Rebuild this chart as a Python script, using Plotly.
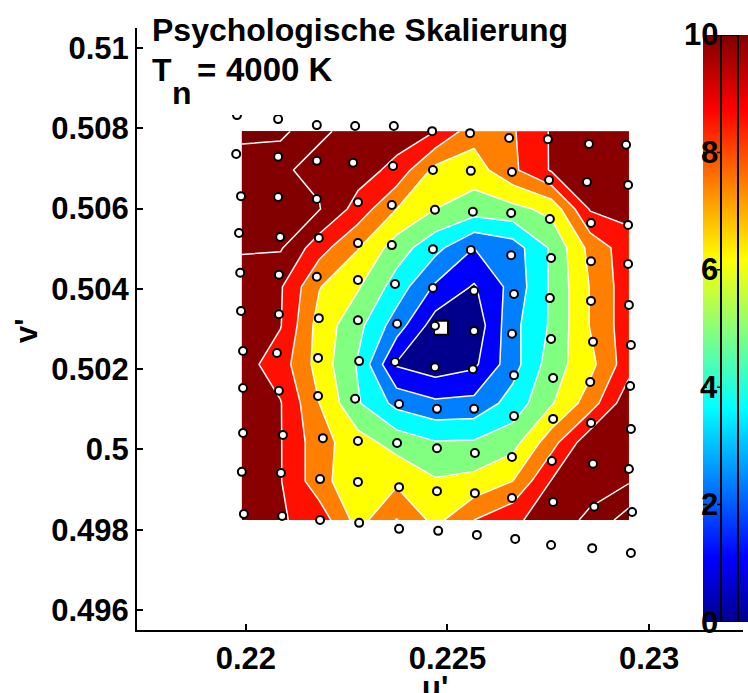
import plotly.graph_objects as go

W, H = 748, 693

# ---------------- data ----------------
u_grid = [0.2199, 0.22086, 0.22182, 0.22278, 0.22374, 0.2247, 0.22566, 0.22662, 0.22758, 0.22854, 0.2295]
# grid rows listed from top (high v') to bottom
v_grid = [0.50793, 0.50696, 0.50599, 0.50502, 0.50405, 0.50309, 0.50212, 0.50115, 0.50018, 0.49921, 0.49824]
z_rows = [
    [10.3, 10.3, 9.1, 8.8, 8.5, 8.0, 6.4, 6.9, 8.1, 8.5, 8.4],
    [9.4, 9.1, 8.8, 8.45, 7.7, 5.7, 5.5, 6.8, 8.1, 8.5, 8.3],
    [9.3, 9.15, 9.05, 7.6, 6.0, 5.0, 4.5, 4.7, 5.3, 8.1, 8.3],
    [9.1, 9.1, 7.4, 6.05, 4.5, 3.3, 2.0, 2.5, 4.15, 6.3, 7.6],
    [8.5, 8.1, 6.05, 5.1, 3.55, 1.85, 0.9, 2.35, 4.15, 6.05, 7.6],
    [8.3, 8.05, 5.6, 4.3, 2.5, 0.5, 0.3, 2.7, 4.15, 6.05, 7.6],
    [8.4, 7.5, 5.6, 3.9, 0.9, 0.4, 0.8, 2.6, 4.5, 5.7, 7.6],
    [8.6, 8.05, 6.0, 4.1, 2.7, 2.2, 2.3, 3.4, 4.9, 6.5, 8.7],
    [8.7, 8.05, 6.4, 5.4, 4.6, 4.05, 4.1, 4.6, 6.6, 8.7, 8.7],
    [8.6, 8.05, 6.4, 5.2, 5.8, 5.1, 5.3, 6.0, 8.05, 8.6, 8.9],
    [8.7, 8.1, 7.6, 5.6, 7.05, 5.7, 7.0, 7.8, 8.5, 9.2, 10.5],
]

# measured sample points (u', v'), row by row from the top
pts_u = [
    [0.21978, 0.22080, 0.22176, 0.22271, 0.22367, 0.22462, 0.22556, 0.22653, 0.22749, 0.22851, 0.22943],
    [0.21976, 0.22080, 0.22176, 0.22266, 0.22365, 0.22464, 0.22558, 0.22660, 0.22752, 0.22846, 0.22948],
    [0.21988, 0.22080, 0.22176, 0.22278, 0.22362, 0.22469, 0.22563, 0.22658, 0.22754, 0.22856, 0.22948],
    [0.21983, 0.22085, 0.22181, 0.22278, 0.22362, 0.22464, 0.22558, 0.22658, 0.22757, 0.22856, 0.22948],
    [0.21986, 0.22082, 0.22176, 0.22278, 0.22370, 0.22464, 0.22566, 0.22665, 0.22754, 0.22856, 0.22950],
    [0.21988, 0.22082, 0.22181, 0.22278, 0.22375, 0.22469, 0.22566, 0.22660, 0.22757, 0.22861, 0.22955],
    [0.21993, 0.22077, 0.22179, 0.22281, 0.22370, 0.22469, 0.22563, 0.22665, 0.22762, 0.22854, 0.22953],
    [0.21993, 0.22082, 0.22179, 0.22271, 0.22380, 0.22474, 0.22566, 0.22665, 0.22762, 0.22856, 0.22955],
    [0.21993, 0.22092, 0.22191, 0.22278, 0.22375, 0.22474, 0.22568, 0.22660, 0.22759, 0.22861, 0.22950],
    [0.21990, 0.22087, 0.22184, 0.22278, 0.22380, 0.22474, 0.22568, 0.22660, 0.22762, 0.22864, 0.22958],
    [0.21995, 0.22090, 0.22184, 0.22281, 0.22380, 0.22477, 0.22573, 0.22668, 0.22757, 0.22859, 0.22955],
]
pts_v = [
    [0.50833, 0.50823, 0.50808, 0.50806, 0.50806, 0.50793, 0.50788, 0.50776, 0.50773, 0.50761, 0.50759],
    [0.50736, 0.50729, 0.50719, 0.50714, 0.50706, 0.50696, 0.50694, 0.50691, 0.50671, 0.50666, 0.50659],
    [0.50631, 0.50629, 0.50624, 0.50616, 0.50609, 0.50597, 0.50592, 0.50589, 0.50574, 0.50564, 0.50559],
    [0.50539, 0.50529, 0.50527, 0.50514, 0.50509, 0.50499, 0.50497, 0.50484, 0.50477, 0.50469, 0.50462],
    [0.50440, 0.50435, 0.50430, 0.50422, 0.50412, 0.50402, 0.50395, 0.50387, 0.50377, 0.50370, 0.50360],
    [0.50345, 0.50337, 0.50327, 0.50322, 0.50313, 0.50308, 0.50295, 0.50288, 0.50275, 0.50268, 0.50260],
    [0.50245, 0.50240, 0.50228, 0.50220, 0.50218, 0.50205, 0.50200, 0.50185, 0.50178, 0.50168, 0.50158],
    [0.50153, 0.50146, 0.50133, 0.50126, 0.50113, 0.50101, 0.50101, 0.50083, 0.50076, 0.50066, 0.50051],
    [0.50041, 0.50036, 0.50028, 0.50021, 0.50016, 0.50003, 0.49991, 0.49981, 0.49971, 0.49964, 0.49951],
    [0.49944, 0.49941, 0.49926, 0.49919, 0.49906, 0.49896, 0.49891, 0.49879, 0.49869, 0.49857, 0.49844],
    [0.49839, 0.49834, 0.49824, 0.49817, 0.49802, 0.49797, 0.49787, 0.49777, 0.49762, 0.49754, 0.49742],
]

white_point_u = [0.22484]
white_point_v = [0.50303]

x_tickvals = [0.22, 0.225, 0.23]
x_ticktext = ["0.22", "0.225", "0.23"]
y_tickvals = [0.496, 0.498, 0.5, 0.502, 0.504, 0.506, 0.508, 0.51]
y_ticktext = ["0.496", "0.498", "0.5", "0.502", "0.504", "0.506", "0.508", "0.51"]
cbar_ticks = [0, 2, 4, 6, 8, 10]

# ---------------- styles ----------------
FONT = "Liberation Sans, Arial, sans-serif"
band_colors = [
    "rgb(0,0,140)",     # < 1
    "rgb(0,0,255)",     # 1-2
    "rgb(0,128,255)",   # 2-3
    "rgb(0,255,255)",   # 3-4
    "rgb(128,255,128)", # 4-5
    "rgb(255,255,0)",   # 5-6
    "rgb(255,128,0)",   # 6-7
    "rgb(255,16,0)",    # 7-8
    "rgb(138,0,0)",     # 8-9
    "rgb(130,0,0)",     # 9-10
    "rgb(120,0,0)",     # > 10
]
band_scale = []
n = len(band_colors)
for k, c in enumerate(band_colors):
    lo = round(max(0.0, (k - 0.5) / (n - 1)), 6)
    hi = round(min(1.0, (k + 0.5) / (n - 1)), 6)
    band_scale.append([lo, c])
    band_scale.append([hi, c])

jet = [
    [0.0, "rgb(0,0,143)"],
    [0.111, "rgb(0,0,255)"],
    [0.365, "rgb(0,255,255)"],
    [0.619, "rgb(255,255,0)"],
    [0.873, "rgb(255,0,0)"],
    [1.0, "rgb(128,0,0)"],
]

fig = go.Figure()

fig.add_trace(go.Contour(
    x=u_grid, y=v_grid[::-1], z=z_rows[::-1],
    contours=dict(start=1, end=10, size=1, coloring="fill"),
    colorscale=band_scale,
    line=dict(color="white", width=1.5, smoothing=0),
    showscale=False, hoverinfo="skip",
))

fig.add_trace(go.Scatter(
    x=white_point_u, y=white_point_v, mode="markers",
    marker=dict(symbol="square", size=14, color="white", line=dict(color="black", width=2)),
    hoverinfo="skip", showlegend=False,
))

all_u = [u for row in pts_u for u in row]
all_v = [v for row in pts_v for v in row]
fig.add_trace(go.Scatter(
    x=all_u, y=all_v, mode="markers",
    marker=dict(symbol="circle", size=8, color="white", line=dict(color="black", width=2)),
    hoverinfo="skip", showlegend=False,
))

# colour bar drawn as a smooth heatmap on its own small axes
cb_left, cb_top, cb_bot = 703, 35, 622
fig.add_trace(go.Heatmap(
    x=[0, 1], y=cbar_ticks, z=[[t, t] for t in cbar_ticks],
    zmin=0, zmax=10, colorscale=jet, zsmooth="best", showscale=False,
    hoverinfo="skip", xaxis="x2", yaxis="y2",
))

shapes = [
    # white box of the title area (hides the tops of the first points, as in the original)
    dict(type="rect", xref="paper", yref="paper", x0=145 / W, x1=345 / W, y0=1 - 115 / H, y1=1.0,
         line=dict(width=0), fillcolor="white", layer="above"),
    dict(type="rect", xref="paper", yref="y2", x0=721 / W, x1=738 / W, y0=0, y1=10,
         line=dict(color="black", width=2), fillcolor="rgba(0,0,0,0)", layer="above"),
]
annotations = []
for t in cbar_ticks:
    shapes.append(dict(type="line", xref="paper", yref="y2",
                       x0=cb_left / W, x1=721 / W, y0=t, y1=t,
                       line=dict(color="black", width=1.5, dash="4px,3px"), layer="above"))
    annotations.append(dict(text=str(t), xref="paper", yref="y2", x=720 / W, y=t,
                            xanchor="right", yanchor="middle", showarrow=False,
                            font=dict(family=FONT, size=31, color="black", weight="bold")))

txt = dict(family=FONT, size=32, color="black", weight="bold")
txt2 = dict(family=FONT, size=33, color="black", weight="bold")
annotations += [
    dict(text="Psychologische Skalierung", xref="paper", yref="paper", x=150 / W, y=1 - 10 / H,
         xanchor="left", yanchor="top", showarrow=False, font=txt),
    dict(text="T", xref="paper", yref="paper", x=150 / W, y=1 - 50 / H,
         xanchor="left", yanchor="top", showarrow=False, font=txt),
    dict(text="n", xref="paper", yref="paper", x=170 / W, y=1 - 73 / H,
         xanchor="left", yanchor="top", showarrow=False, font=txt),
    dict(text="=", xref="paper", yref="paper", x=195 / W, y=1 - 50 / H,
         xanchor="left", yanchor="top", showarrow=False, font=txt2),
    dict(text="4000 K", xref="paper", yref="paper", x=224 / W, y=1 - 49 / H,
         xanchor="left", yanchor="top", showarrow=False, font=txt2),
    dict(text="u'", xref="paper", yref="paper", x=435 / W, y=1 - 668 / H,
         xanchor="center", yanchor="top", showarrow=False,
         font=dict(family=FONT, size=31, color="black", weight="bold")),
    dict(text="v'", xref="paper", yref="paper", x=26 / W, y=1 - 331 / H,
         xanchor="center", yanchor="middle", showarrow=False, textangle=-90,
         font=dict(family=FONT, size=31, color="black", weight="bold")),
]

tickfont = dict(family=FONT, size=31, color="black", weight="bold")
fig.update_layout(
    width=W, height=H,
    margin=dict(l=0, r=0, t=0, b=0, pad=0),
    paper_bgcolor="white", plot_bgcolor="white",
    showlegend=False,
    xaxis=dict(domain=[137 / W, 743 / W], range=[0.2173, 0.23233],
               showline=True, linecolor="black", linewidth=2, mirror=False,
               ticks="inside", ticklen=6, tickwidth=1.5, tickcolor="black",
               tickvals=x_tickvals, ticktext=x_ticktext, tickfont=tickfont,
               showgrid=False, zeroline=False, automargin=False),
    yaxis=dict(domain=[1 - 630 / H, 1 - 28 / H], range=[0.4955, 0.5105],
               showline=True, linecolor="black", linewidth=2, mirror=False,
               ticks="inside", ticklen=6, tickwidth=1.5, tickcolor="black",
               tickvals=y_tickvals, ticktext=y_ticktext, tickfont=tickfont,
               showgrid=False, zeroline=False, automargin=False),
    xaxis2=dict(domain=[cb_left / W, 1.0], range=[0, 1], visible=False, anchor="y2",
                fixedrange=True),
    yaxis2=dict(domain=[1 - cb_bot / H, 1 - cb_top / H], range=[0, 10], visible=False,
                anchor="x2", fixedrange=True),
    shapes=shapes,
    annotations=annotations,
)

fig.write_html("out.html", config={"displayModeBar": False},
               post_script="document.body.style.margin='0';document.body.style.overflow='hidden';")
